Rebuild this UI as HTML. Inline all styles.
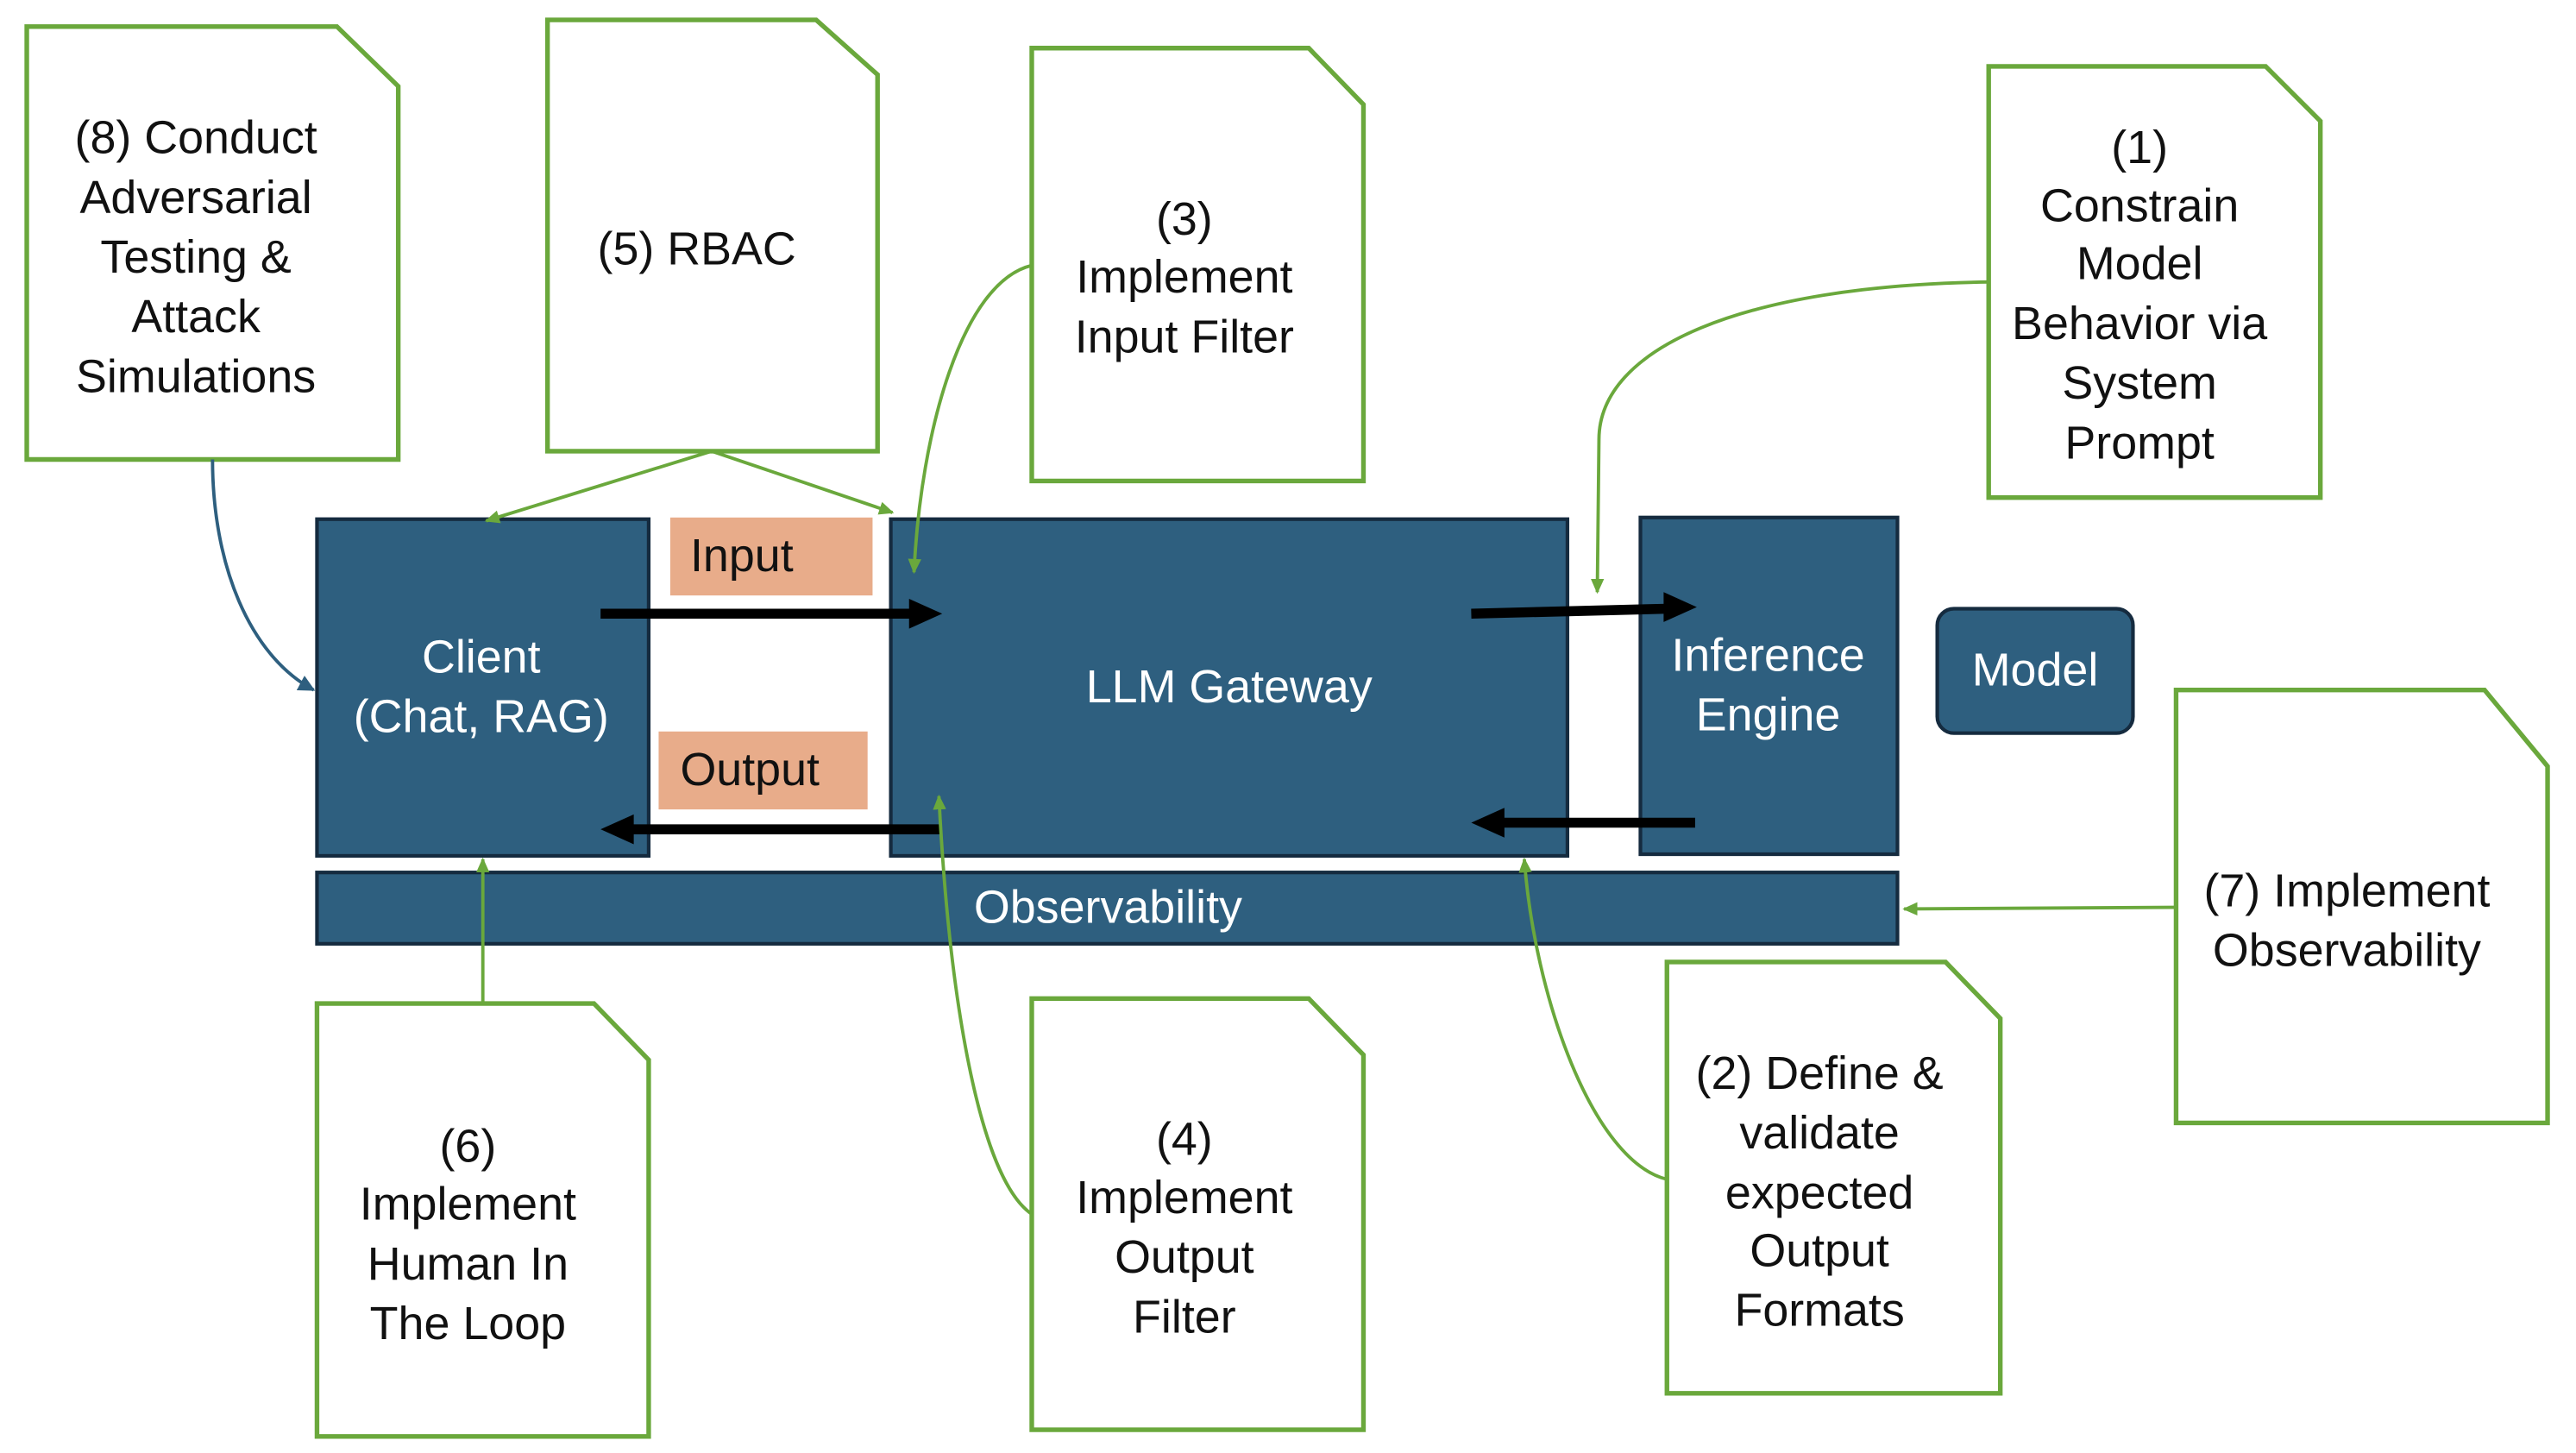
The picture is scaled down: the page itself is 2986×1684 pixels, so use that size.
<!DOCTYPE html>
<html><head><meta charset="utf-8"><style>
html,body{margin:0;padding:0;background:#fff;}
svg{display:block;}
text{font-family:"Liberation Sans",sans-serif;}
.n{fill:#fff;stroke:#6aa83c;stroke-width:2.8;}
.t{font-size:28px;fill:#111;text-anchor:middle;dominant-baseline:middle;}
.w{font-size:28px;fill:#fff;text-anchor:middle;dominant-baseline:middle;}
.d{fill:#2e5f7f;stroke:#152b3f;stroke-width:2.2;}
.g{fill:none;stroke:#6aa83c;stroke-width:2;}
.k{stroke:#000;stroke-width:6;fill:none;}
</style></head><body>
<svg width="2986" height="1684" viewBox="0 0 1553 876" xmlns="http://www.w3.org/2000/svg">
<defs>
<marker id="ga" markerWidth="10" markerHeight="10" refX="8" refY="5" orient="auto" markerUnits="userSpaceOnUse"><path d="M0,1 L9,5 L0,9 Z" fill="#6aa83c"/></marker>
<marker id="ba" markerWidth="12" markerHeight="12" refX="9" refY="6" orient="auto" markerUnits="userSpaceOnUse"><path d="M0,1 L10,6 L0,11 Z" fill="#2e5f7f"/></marker>
</defs>
<path class="n" d="M16,16 H203 L240,52 V277 H16 Z"/>
<text class="t" x="118" y="85">(8) Conduct</text>
<text class="t" x="118" y="121">Adversarial</text>
<text class="t" x="118" y="157">Testing &amp;</text>
<text class="t" x="118" y="193">Attack</text>
<text class="t" x="118" y="229">Simulations</text>

<path class="n" d="M330,12 H492 L529,45 V272 H330 Z"/>
<text class="t" x="420" y="152">(5) RBAC</text>

<path class="n" d="M622,29 H789 L822,63 V290 H622 Z"/>
<text class="t" x="714" y="134">(3)</text>
<text class="t" x="714" y="169">Implement</text>
<text class="t" x="714" y="205">Input Filter</text>

<path class="n" d="M1199,40 H1366 L1399,73 V300 H1199 Z"/>
<text class="t" x="1290" y="91">(1)</text>
<text class="t" x="1290" y="126">Constrain</text>
<text class="t" x="1290" y="161">Model</text>
<text class="t" x="1290" y="197">Behavior via</text>
<text class="t" x="1290" y="233">System</text>
<text class="t" x="1290" y="269">Prompt</text>

<path class="n" d="M1312,416 H1498 L1536,462 V677 H1312 Z"/>
<text class="t" x="1415" y="539">(7) Implement</text>
<text class="t" x="1415" y="575">Observability</text>

<path class="n" d="M1005,580 H1173 L1206,614 V840 H1005 Z"/>
<text class="t" x="1097" y="649">(2) Define &amp;</text>
<text class="t" x="1097" y="685">validate</text>
<text class="t" x="1097" y="721">expected</text>
<text class="t" x="1097" y="756">Output</text>
<text class="t" x="1097" y="792">Formats</text>

<path class="n" d="M622,602 H789 L822,636 V862 H622 Z"/>
<text class="t" x="714" y="689">(4)</text>
<text class="t" x="714" y="724">Implement</text>
<text class="t" x="714" y="760">Output</text>
<text class="t" x="714" y="796">Filter</text>

<path class="n" d="M191,605 H358 L391,639 V866 H191 Z"/>
<text class="t" x="282" y="693">(6)</text>
<text class="t" x="282" y="728">Implement</text>
<text class="t" x="282" y="764">Human In</text>
<text class="t" x="282" y="800">The Loop</text>

<rect class="d" x="191" y="313" width="200" height="203"/>
<text class="w" x="290" y="398">Client</text>
<text class="w" x="290" y="434">(Chat, RAG)</text>
<rect class="d" x="537" y="313" width="408" height="203"/>
<text class="w" x="741" y="416">LLM Gateway</text>
<rect class="d" x="989" y="312" width="155" height="203"/>
<text class="w" x="1066" y="397">Inference</text>
<text class="w" x="1066" y="433">Engine</text>
<rect class="d" x="1168" y="367" width="118" height="75" rx="10"/>
<text class="w" x="1227" y="406">Model</text>
<rect class="d" x="191" y="526" width="953" height="43"/>
<text class="w" x="668" y="549">Observability</text>

<rect x="404" y="312" width="122" height="47" fill="#e8ac8a"/>
<text x="416" y="337" style="font-size:28px;fill:#111;dominant-baseline:middle">Input</text>
<rect x="397" y="441" width="126" height="47" fill="#e8ac8a"/>
<text x="410" y="466" style="font-size:28px;fill:#111;dominant-baseline:middle">Output</text>

<line class="k" x1="362" y1="370" x2="550" y2="370"/><path d="M548,361 L568,370 L548,379 Z"/>
<line class="k" x1="567" y1="500" x2="380" y2="500"/><path d="M382,491 L362,500 L382,509 Z"/>
<line class="k" x1="887" y1="370" x2="1005" y2="367"/><path d="M1003,357 L1023,366 L1003,375 Z"/>
<line class="k" x1="1022" y1="496" x2="905" y2="496"/><path d="M907,487 L887,496 L907,505 Z"/>

<path class="g" d="M429,272 L293,314" marker-end="url(#ga)"/>
<path class="g" d="M429,272 L538,309" marker-end="url(#ga)"/>
<path class="g" d="M622,160 C580,170 555,260 551,345" marker-end="url(#ga)"/>
<path class="g" d="M1199,170 C1050,172 964,210 964,265 L963,357" marker-end="url(#ga)"/>
<path class="g" d="M1312,547 L1148,548" marker-end="url(#ga)"/>
<path class="g" d="M1005,711 C960,700 925,600 919,518" marker-end="url(#ga)"/>
<path class="g" d="M622,732 C590,710 572,600 566,480" marker-end="url(#ga)"/>
<path class="g" d="M291,605 L291,518" marker-end="url(#ga)"/>
<path d="M128,277 C128,340 150,395 189,416" fill="none" stroke="#2e5f7f" stroke-width="2" marker-end="url(#ba)"/>
</svg>
</body></html>
